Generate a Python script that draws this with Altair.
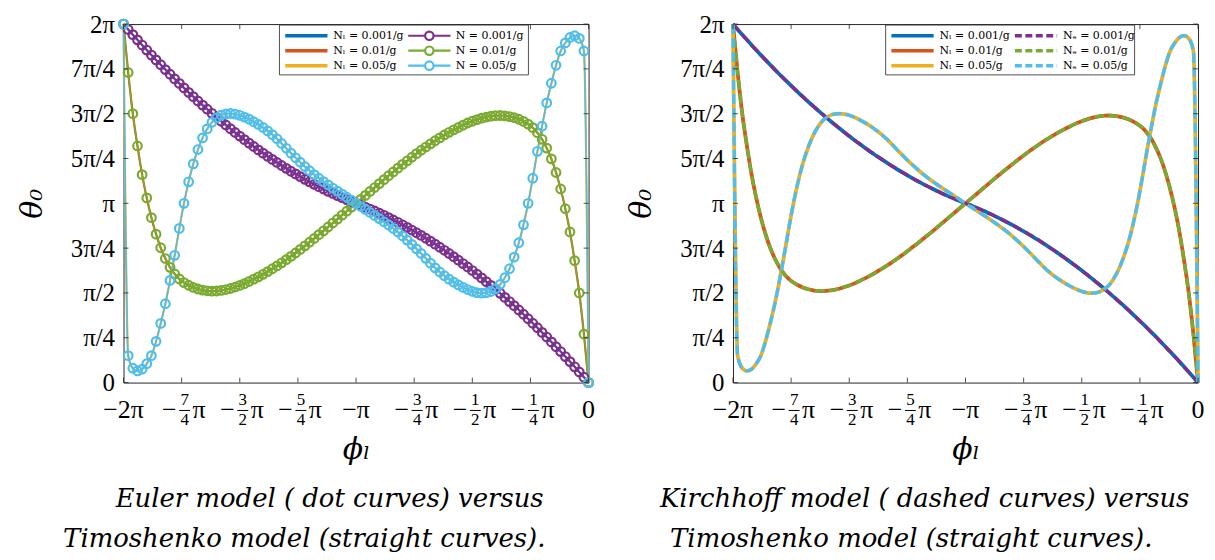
import altair as alt
import pandas as pd

# ---------------- data (units of pi) ----------------
phi = [
    -2.00, -1.98, -1.96, -1.94, -1.92, -1.90, -1.88, -1.86, -1.84, -1.82,
    -1.80, -1.78, -1.76, -1.74, -1.72, -1.70, -1.68, -1.66, -1.64, -1.62,
    -1.60, -1.58, -1.56, -1.54, -1.52, -1.50, -1.48, -1.46, -1.44, -1.42,
    -1.40, -1.38, -1.36, -1.34, -1.32, -1.30, -1.28, -1.26, -1.24, -1.22,
    -1.20, -1.18, -1.16, -1.14, -1.12, -1.10, -1.08, -1.06, -1.04, -1.02,
    -1.00, -0.98, -0.96, -0.94, -0.92, -0.90, -0.88, -0.86, -0.84, -0.82,
    -0.80, -0.78, -0.76, -0.74, -0.72, -0.70, -0.68, -0.66, -0.64, -0.62,
    -0.60, -0.58, -0.56, -0.54, -0.52, -0.50, -0.48, -0.46, -0.44, -0.42,
    -0.40, -0.38, -0.36, -0.34, -0.32, -0.30, -0.28, -0.26, -0.24, -0.22,
    -0.20, -0.18, -0.16, -0.14, -0.12, -0.10, -0.08, -0.06, -0.04, -0.02,
    0.00,
]

theta_001 = [
    2.000, 1.970, 1.941, 1.912, 1.883, 1.855, 1.827, 1.800, 1.773, 1.746,
    1.720, 1.694, 1.669, 1.644, 1.619, 1.595, 1.571, 1.548, 1.525, 1.502,
    1.480, 1.458, 1.437, 1.416, 1.395, 1.375, 1.355, 1.336, 1.317, 1.298,
    1.280, 1.262, 1.245, 1.228, 1.211, 1.195, 1.179, 1.164, 1.149, 1.134,
    1.120, 1.106, 1.093, 1.080, 1.067, 1.055, 1.043, 1.032, 1.021, 1.010,
    1.000,
    0.990, 0.979, 0.968, 0.957, 0.945, 0.933, 0.920, 0.907, 0.894, 0.880,
    0.866, 0.851, 0.836, 0.821, 0.805, 0.789, 0.772, 0.755, 0.738, 0.720,
    0.702, 0.683, 0.664, 0.645, 0.625, 0.605, 0.584, 0.563, 0.542, 0.520,
    0.498, 0.475, 0.452, 0.429, 0.405, 0.381, 0.356, 0.331, 0.306, 0.280,
    0.254, 0.227, 0.200, 0.173, 0.145, 0.117, 0.088, 0.059, 0.030, 0.000,
]

theta_01 = [
    2.000, 1.730, 1.500, 1.320, 1.160, 1.030, 0.920, 0.828, 0.752, 0.692,
    0.643, 0.606, 0.578, 0.558, 0.543, 0.531, 0.522, 0.516, 0.512, 0.510,
    0.511, 0.514, 0.519, 0.525, 0.533, 0.542, 0.552, 0.564, 0.577, 0.590,
    0.604, 0.619, 0.635, 0.651, 0.668, 0.686, 0.704, 0.723, 0.743, 0.763,
    0.783, 0.804, 0.825, 0.846, 0.868, 0.890, 0.912, 0.934, 0.956, 0.978,
    1.000,
    1.022, 1.044, 1.066, 1.088, 1.110, 1.132, 1.154, 1.175, 1.196, 1.217,
    1.237, 1.257, 1.277, 1.296, 1.314, 1.332, 1.349, 1.365, 1.381, 1.396,
    1.410, 1.423, 1.436, 1.448, 1.458, 1.467, 1.475, 1.481, 1.486, 1.489,
    1.490, 1.488, 1.484, 1.478, 1.469, 1.457, 1.442, 1.422, 1.394, 1.357,
    1.308, 1.248, 1.172, 1.080, 0.970, 0.840, 0.680, 0.500, 0.270, 0.000,
]

theta_05 = [
    2.000, 0.150, 0.080, 0.065, 0.075, 0.105, 0.150, 0.230, 0.330, 0.440,
    0.570, 0.710, 0.860, 1.000, 1.120, 1.220, 1.300, 1.365, 1.415, 1.452,
    1.477, 1.492, 1.499, 1.501, 1.498, 1.491, 1.481, 1.469, 1.455, 1.440,
    1.423, 1.404, 1.383, 1.360, 1.334, 1.307, 1.280, 1.254, 1.229, 1.205,
    1.182, 1.160, 1.140, 1.121, 1.103, 1.085, 1.068, 1.051, 1.034, 1.017,
    1.000,
    0.983, 0.966, 0.949, 0.932, 0.915, 0.897, 0.879, 0.860, 0.840, 0.818,
    0.795, 0.771, 0.746, 0.720, 0.693, 0.666, 0.640, 0.617, 0.596, 0.577,
    0.560, 0.545, 0.531, 0.519, 0.509, 0.502, 0.499, 0.501, 0.508, 0.523,
    0.548, 0.585, 0.635, 0.700, 0.780, 0.880, 1.000, 1.140, 1.290, 1.430,
    1.560, 1.670, 1.770, 1.850, 1.895, 1.925, 1.935, 1.920, 1.850, 0.000,
]

series_values = [theta_001, theta_01, theta_05]

timo_labels = ["Nₗ = 0.001/g", "Nₗ = 0.01/g", "Nₗ = 0.05/g"]
euler_labels = ["N = 0.001/g", "N = 0.01/g", "N = 0.05/g"]
kirch_labels = ["Nₑ = 0.001/g", "Nₑ = 0.01/g", "Nₑ = 0.05/g"]
timo_colors = ["#0072BD", "#D95319", "#EDB120"]
other_colors = ["#7E2F8E", "#77AC30", "#4DBEEE"]

x_ticks = [-2, -1.75, -1.5, -1.25, -1, -0.75, -0.5, -0.25, 0]
x_tick_main = ["−2π", "−", "−", "−", "−π", "−", "−", "−", "0"]
x_tick_num = ["", "7", "3", "5", "", "3", "1", "1", ""]
x_tick_den = ["", "4", "2", "4", "", "4", "2", "4", ""]
y_ticks = [0, 0.25, 0.5, 0.75, 1, 1.25, 1.5, 1.75, 2]
y_tick_labels = ["0", "π/4", "π/2", "3π/4", "π", "5π/4", "3π/2", "7π/4", "2π"]

caption_left = ["Euler model ( dot curves) versus", "Timoshenko model (straight curves)."]
caption_right = ["Kirchhoff model ( dashed curves) versus", "Timoshenko model (straight curves)."]

# ---------------- style ----------------
W, H = 467, 360
FONT = "DejaVu Serif"
MATH = "Liberation Serif"
INK = "#262626"
CIRCLE_LINE = "M-1,0L-0.2,0M0.2,0L1,0M0.2,0A0.2,0.2,0,1,1,-0.2,0A0.2,0.2,0,1,1,0.2,0"
LEG_W, LEG_H = 250, 50

xscale = alt.Scale(domain=[-2, 0], nice=False, zero=False)
yscale = alt.Scale(domain=[0, 2], nice=False, zero=False)
label_expr = "[" + ",".join("'%s'" % s for s in y_tick_labels) + "][round(datum.value*4)]"

x_axis = alt.Axis(
    title="ϕₗ", labels=False, ticks=False, domain=False, grid=False,
    titleFont=FONT, titleFontSize=30, titleFontStyle="italic",
    titleFontWeight="normal", titleColor="black", titlePadding=52)
y_axis = alt.Axis(
    values=y_ticks, labelExpr=label_expr, domain=False, ticks=False, grid=False,
    labelFont=MATH, labelFontSize=25, labelColor="black", labelPadding=9,
    labelOverlap=False,
    title="θ₀", titleFont=FONT, titleFontSize=30, titleFontStyle="italic",
    titleFontWeight="normal", titleColor="black", titlePadding=23)


def long_df(labels):
    rows = []
    for lab, vals in zip(labels, series_values):
        for xv, yv in zip(phi, vals):
            rows.append({"phi": xv, "theta": yv, "label": lab})
    return pd.DataFrame(rows)


def legend(lx, **kw):
    return alt.Legend(
        title=None, orient="none", legendX=lx, legendY=1, direction="vertical",
        labelFont=FONT, labelFontSize=11, labelFontWeight="normal", labelColor="black",
        labelOffset=4, symbolSize=1800, symbolFillColor="transparent", clipHeight=13.5,
        rowPadding=1, padding=4, **kw,
    )


def panel(kind, other_labels, caps, cap_x, legend_x):
    leg_a = legend(legend_x, symbolType="stroke", symbolStrokeWidth=3.5)
    if kind == "circle":
        leg_b = legend(legend_x + 124, symbolType=CIRCLE_LINE, symbolStrokeWidth=2.2)
    else:
        leg_b = legend(legend_x + 124, symbolType="stroke", symbolStrokeWidth=3.5,
                       symbolDash=[7, 3.5])
    cscale = alt.Scale(domain=timo_labels, range=timo_colors)
    sscale = alt.Scale(domain=other_labels, range=other_colors)
    color = alt.Color("label:N", scale=cscale, legend=leg_a)
    stroke = alt.Stroke("label:N", scale=sscale, legend=leg_b)
    stroke_nolegend = alt.Stroke("label:N", scale=sscale, legend=None)

    x_enc = alt.X("phi:Q", scale=xscale, axis=x_axis)
    y_enc = alt.Y("theta:Q", scale=yscale, axis=y_axis)
    xs = alt.X("v:Q", scale=xscale, axis=x_axis)
    ys = alt.Y("t:Q", scale=yscale, axis=y_axis)
    xt_df = pd.DataFrame({"v": x_ticks, "main": x_tick_main, "num": x_tick_num, "den": x_tick_den})
    yt_df = pd.DataFrame({"t": y_ticks})

    timo_df = long_df(timo_labels)
    other_df = long_df(other_labels)
    if kind == "circle":
        curves = [
            alt.Chart(timo_df).mark_line(strokeWidth=2.2, interpolate="monotone").encode(
                x=x_enc, y=y_enc, color=color),
            alt.Chart(other_df).mark_line(strokeWidth=1.5, interpolate="monotone").encode(
                x=x_enc, y=y_enc, stroke=stroke),
            alt.Chart(other_df).mark_point(shape="circle", filled=False, size=75,
                                           strokeWidth=2.2, opacity=1).encode(
                x=x_enc, y=y_enc, stroke=stroke_nolegend),
        ]
    else:
        curves = [
            alt.Chart(timo_df).mark_line(strokeWidth=3.8, interpolate="monotone").encode(
                x=x_enc, y=y_enc, color=color),
            alt.Chart(other_df).mark_line(strokeWidth=3.3, strokeDash=[10, 4],
                                          interpolate="monotone").encode(
                x=x_enc, y=y_enc, stroke=stroke),
        ]

    rule = dict(color=INK, strokeWidth=0.8)
    ticks = [
        alt.Chart(xt_df).mark_rule(**rule).encode(x=xs, y=alt.value(H), y2=alt.value(H - 5)),
        alt.Chart(xt_df).mark_rule(**rule).encode(x=xs, y=alt.value(0), y2=alt.value(5)),
        alt.Chart(yt_df).mark_rule(**rule).encode(y=ys, x=alt.value(0), x2=alt.value(5)),
        alt.Chart(yt_df).mark_rule(**rule).encode(y=ys, x=alt.value(W), x2=alt.value(W - 5)),
    ]

    box_df = pd.DataFrame({"c": [0]})
    box = alt.Chart(box_df).mark_rect(fill="white", stroke=INK, strokeWidth=0.8).encode(
        x=alt.value(legend_x), x2=alt.value(legend_x + LEG_W),
        y=alt.value(1), y2=alt.value(1 + LEG_H))

    ty = H + 27.5
    txt = dict(font=MATH, color="black", baseline="middle")
    ints = alt.Chart(xt_df).transform_filter("datum.num == ''").mark_text(
        fontSize=26, align="center", **txt).encode(x=xs, y=alt.value(ty), text="main:N")
    minus = alt.Chart(xt_df).transform_filter("datum.num != ''").mark_text(
        fontSize=26, align="right", dx=-5, **txt).encode(x=xs, y=alt.value(ty), text="main:N")
    pis = alt.Chart(xt_df).transform_filter("datum.num != ''").mark_text(
        fontSize=26, align="left", dx=11, text="π", **txt).encode(x=xs, y=alt.value(ty))
    nums = alt.Chart(xt_df).transform_filter("datum.num != ''").mark_text(
        fontSize=17, align="center", dx=3, **txt).encode(x=xs, y=alt.value(ty - 10), text="num:N")
    dens = alt.Chart(xt_df).transform_filter("datum.num != ''").mark_text(
        fontSize=17, align="center", dx=3, **txt).encode(x=xs, y=alt.value(ty + 10.5), text="den:N")
    bars = alt.Chart(xt_df).transform_filter("datum.num != ''").mark_rule(
        color="black", strokeWidth=1, xOffset=-2.5, x2Offset=8.5).encode(
        x=xs, x2=alt.X2("v"), y=alt.value(ty + 0.5))

    caps_layers = [
        alt.Chart(box_df).mark_text(text=c, font=FONT, fontSize=26, fontStyle="italic",
                                    align="center", baseline="middle", color="black").encode(
            x=alt.value(cx), y=alt.value(cy))
        for c, cx, cy in zip(caps, cap_x, [477, 517])
    ]

    return alt.layer(*curves, *ticks, box, ints, minus, pis, nums, dens, bars,
                     *caps_layers).properties(width=W, height=H).resolve_scale(
        color="independent", stroke="independent")


left = panel("circle", euler_labels, caption_left, [207, 181.5], 156.6)
right = panel("dash", kirch_labels, caption_right, [192.5, 179], 153.3)

chart = alt.hconcat(left, right, spacing=145, bounds="flush").resolve_scale(
    color="independent", stroke="independent").properties(
    padding={"left": 8, "top": 2, "right": 0, "bottom": 0}, background="white"
).configure_view(stroke=INK, strokeWidth=1)

chart.save("out.html", embed_options={"renderer": "svg", "actions": False})
